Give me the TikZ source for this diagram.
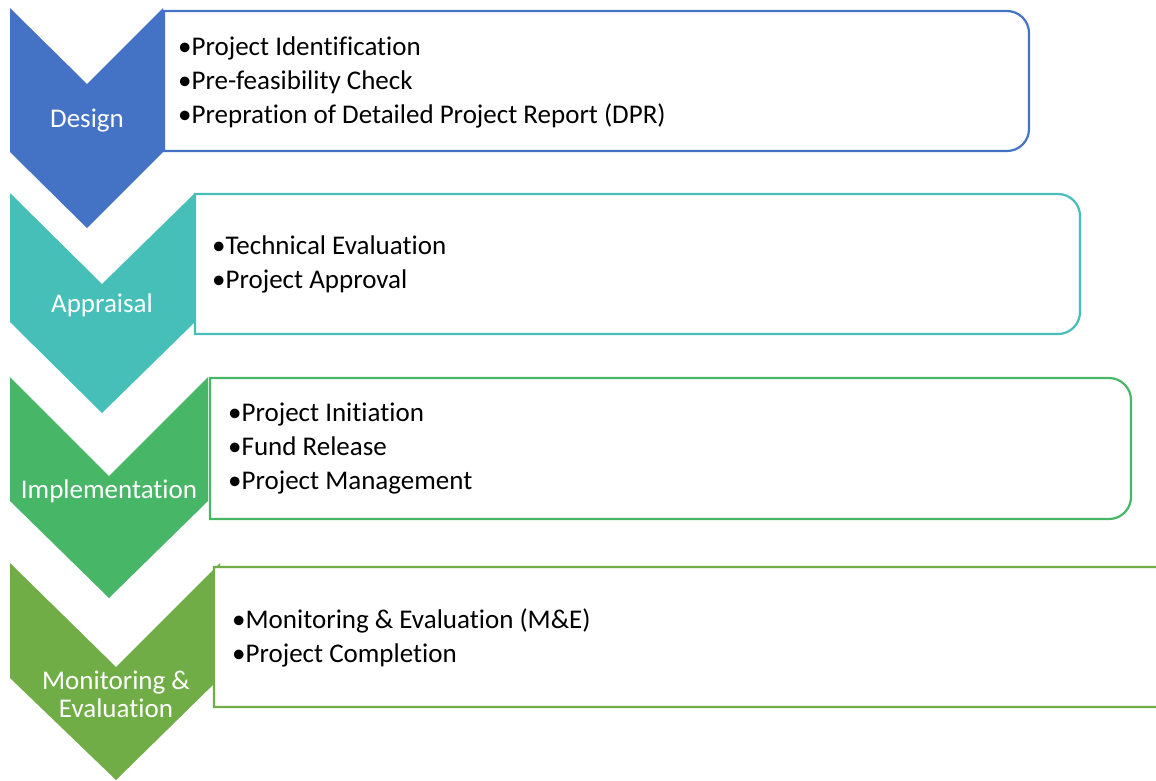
\documentclass[tikz,border=0pt]{standalone}
\usepackage{fontspec}
\setmainfont{Carlito}[Ligatures=NoCommon]
\definecolor{cA}{HTML}{4472C4}
\definecolor{cB}{HTML}{45BFB8}
\definecolor{cC}{HTML}{48B667}
\definecolor{cD}{HTML}{70AD47}
\tikzset{
  chev/.style={fill=#1, draw=none},
  stagebox/.style={draw=#1, line width=2.2pt, fill=white},
  lab/.style={text=white, font=\fontsize{27}{28}\selectfont, align=center, inner sep=0pt},
  items/.style={anchor=west, align=left, font=\fontsize{27}{34}\selectfont, inner sep=0pt, text=black}
}
\begin{document}
\begin{tikzpicture}[x=1pt,y=-1pt]
\useasboundingbox (0,0) rectangle (1156,780);
% chevrons
\fill[chev=cA] (10,8) -- (87,84) -- (163,8) -- (163,152) -- (87,228) -- (10,152) -- cycle;
\fill[chev=cB] (10,193) -- (102,284) -- (195,193) -- (195,322) -- (102,413) -- (10,322) -- cycle;
\fill[chev=cC] (10,377) -- (109,476) -- (208,377) -- (208,501) -- (109,598) -- (10,501) -- cycle;
\fill[chev=cD] (10,563) -- (116,667) -- (220,563) -- (220,678) -- (116,780) -- (10,678) -- cycle;
% boxes
\draw[stagebox=cA] (164,151) -- (164,11) [rounded corners=22] -- (1029,11) -- (1029,151) [sharp corners] -- cycle;
\draw[stagebox=cB] (195,334) -- (195,194) [rounded corners=22] -- (1080,194) -- (1080,334) [sharp corners] -- cycle;
\draw[stagebox=cC] (210,519) -- (210,378) [rounded corners=22] -- (1131,378) -- (1131,519) [sharp corners] -- cycle;
\draw[stagebox=cD] (214,707) -- (214,567) [rounded corners=22] -- (1178,567) -- (1178,707) [sharp corners] -- cycle;
% labels
\node[lab] (l1) at (87,121) {Design};
\node[lab] (l2) at (102,305) {Appraisal};
\node[lab] (l3) at (109,491) {Implementation};
\node[lab] (l4) at (116,694) {Monitoring \&\\Evaluation};
% items
\node[items] (t1) at (178,82) {•Project Identification\\•Pre-feasibility Check\\•Prepration of Detailed Project Report (DPR)};
\node[items] (t2) at (212,264) {•Technical Evaluation\\•Project Approval};
\node[items] (t3) at (228,449) {•Project Initiation\\•Fund Release\\•Project Management};
\node[items] (t4) at (232,638) {•Monitoring \& Evaluation (M\&E)\\•Project Completion};
\end{tikzpicture}
\end{document}
